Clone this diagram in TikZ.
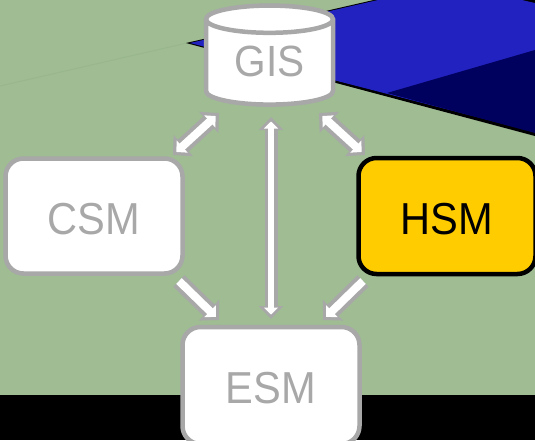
\documentclass[tikz,border=0pt]{standalone}
\usepackage{fontspec}
\setmainfont{Liberation Sans}
\usetikzlibrary{arrows.meta,shapes.geometric}
\definecolor{bggreen}{HTML}{9FBC93}
\definecolor{faintgreen}{HTML}{99B78D}
\definecolor{edgegray}{HTML}{A8A8A8}
\definecolor{royal}{HTML}{2222C0}
\definecolor{navy}{HTML}{00005E}
\definecolor{amber}{HTML}{FFCC00}
\newcommand{\tallword}[2]{\raisebox{-#1pt}[0pt][0pt]{\scalebox{1.04}[1.12]{#2}}}
\tikzset{
  x=1pt,y=-1pt,
  box/.style={draw=edgegray,fill=white,line width=4.5pt,rounded corners=18pt,text=edgegray,font=\fontsize{40}{40}\selectfont,minimum width=177pt,inner sep=0pt},
  store/.style={cylinder,shape border rotate=90,aspect=0.39,draw=edgegray,fill=white,line width=4.5pt,text=edgegray,font=\fontsize{39}{39}\selectfont,minimum width=127pt,minimum height=99pt,inner sep=0pt},
  flowgray/.style={draw=edgegray,line width=16pt,-{Triangle[length=14pt,width=28pt]}},
  flowgraydouble/.style={draw=edgegray,line width=16pt,{Triangle[length=14pt,width=28pt]}-{Triangle[length=14pt,width=28pt]}},
  flowwhite/.style={draw=white,line width=8pt,shorten >=4.5pt,-{Triangle[length=8pt,width=16pt]}},
  flowwhitedouble/.style={draw=white,line width=8pt,shorten >=4.5pt,shorten <=4.5pt,{Triangle[length=8pt,width=16pt]}-{Triangle[length=8pt,width=16pt]}},
  thinflowgray/.style={draw=edgegray,line width=13pt,{Triangle[length=13pt,width=24pt]}-{Triangle[length=13pt,width=24pt]}},
  thinflowwhite/.style={draw=white,line width=6pt,shorten >=4.5pt,shorten <=4.5pt,{Triangle[length=7pt,width=14pt]}-{Triangle[length=7pt,width=14pt]}},
}
\begin{document}
\begin{tikzpicture}
\useasboundingbox (0,0) rectangle (535,440);
\clip (0,0) rectangle (535,440);
\fill[bggreen] (0,0) rectangle (535,440);
\fill[black] (0,395) rectangle (535,440);
\draw[faintgreen,line width=1pt] (0,86) -- (187,43);
\fill[black] (186,43) -- (378,-1) -- (535,-1) -- (535,136) -- cycle;
\fill[royal] (190,43) -- (378,0) -- (522,0) -- (535,3) -- (535,132) -- cycle;
\fill[navy] (387,93) -- (535,50) -- (535,133) -- cycle;
\node[store] (gis) at (269.5,63) {\tallword{13.5}{GIS}};
\node[box,minimum height=115pt] (csm) at (94,216) {\tallword{18}{CSM}};
\node[box,fill=amber,draw=black,text=black,minimum height=116pt] (hsm) at (447,216) {\tallword{18}{HSM}};
\node[box,minimum height=117pt] (esm) at (271,385.5) {\tallword{18}{ESM}};
\coordinate (g1) at (219,113);
\coordinate (c1) at (173,155);
\coordinate (g2) at (271,117);
\coordinate (e2) at (271,319);
\coordinate (g3) at (319,113);
\coordinate (h3) at (365,155);
\coordinate (c4) at (179,281);
\coordinate (e4) at (219,320);
\coordinate (h5) at (363,281);
\coordinate (e5) at (323,320);
\draw[flowgraydouble] (g1) -- (c1);
\draw[flowwhitedouble] (g1) -- (c1);
\draw[thinflowgray] (g2) -- (e2);
\draw[thinflowwhite] (g2) -- (e2);
\draw[flowgraydouble] (g3) -- (h3);
\draw[flowwhitedouble] (g3) -- (h3);
\draw[flowgray] (c4) -- (e4);
\draw[flowwhite] (c4) -- (e4);
\draw[flowgray] (h5) -- (e5);
\draw[flowwhite] (h5) -- (e5);
\end{tikzpicture}
\end{document}
